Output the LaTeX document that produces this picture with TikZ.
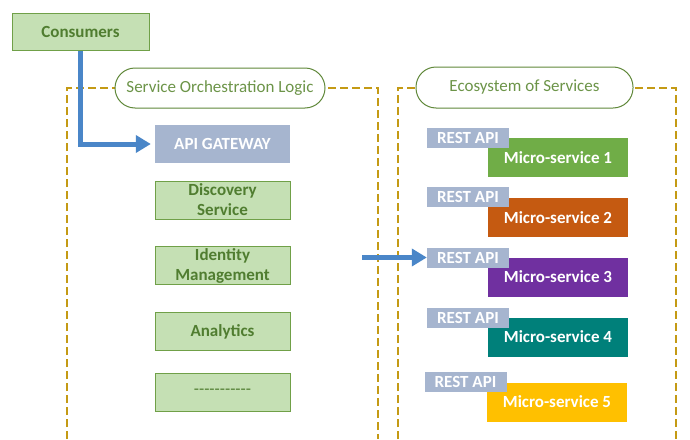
\documentclass[tikz,border=0pt]{standalone}
\usepackage{fontspec}
\setmainfont{Carlito}
\usepackage{tikz}
\usetikzlibrary{arrows.meta}

\definecolor{boxfill}{RGB}{197,224,180}
\definecolor{boxedge}{RGB}{112,160,72}
\definecolor{boxtext}{RGB}{80,125,48}
\definecolor{apifill}{RGB}{166,181,207}
\definecolor{framegold}{RGB}{196,154,20}
\definecolor{tagedge}{RGB}{96,136,58}
\definecolor{tagtext}{RGB}{108,148,72}
\definecolor{flowblue}{RGB}{74,134,200}
\definecolor{msgreen}{RGB}{112,173,71}
\definecolor{msorange}{RGB}{197,90,17}
\definecolor{mspurple}{RGB}{112,48,160}
\definecolor{msteal}{RGB}{0,128,122}
\definecolor{msgold}{RGB}{255,192,0}

\newcommand{\hy}{\mbox{-}}

\begin{document}
\begin{tikzpicture}[x=1pt,y=-1pt,
    greenbox/.style={draw=boxedge,fill=boxfill,text=boxtext,line width=1pt,
      font=\fontsize{17}{20}\selectfont\bfseries,align=center,
      minimum width=135pt,minimum height=38pt,inner sep=0pt},
    apibox/.style={fill=apifill,text=white,
      font=\fontsize{17}{20}\selectfont\bfseries,inner sep=0pt},
    msbox/.style={fill=#1,text=white,font=\fontsize{17}{20}\selectfont\bfseries,
      minimum width=140pt,minimum height=39pt,inner sep=0pt},
    tag/.style={draw=tagedge,fill=white,text=tagtext,line width=1pt,
      rounded corners=20pt,font=\fontsize{17}{20}\selectfont,inner sep=0pt},
    frame/.style={draw=framegold,line width=2pt,dash pattern=on 8pt off 4pt},
    flow/.style={draw=flowblue,line width=5pt,-{Triangle[length=15pt,width=17pt]}}]
  \useasboundingbox (0,0) rectangle (690,439);

  % dashed frames, open at the bottom
  \draw[frame] (67,439) -- (67,88) -- (378,88) -- (378,439);
  \draw[frame] (398,439) -- (398,88) -- (676,88) -- (676,439);
  \node[tag,minimum width=210pt,minimum height=40pt] (orch) at (220,88) {Service Orchestration Logic};
  \node[tag,minimum width=217pt,minimum height=41pt] (eco) at (524.5,87.5) {Ecosystem of Services};

  % left column
  \node[greenbox,minimum width=137pt,minimum height=37pt] (cons) at (80.5,31.5) {Consumers};
  \node[apibox,minimum width=135pt,minimum height=38pt] (gw) at (222.5,144) {API GATEWAY};
  \node[greenbox] (disc) at (222.5,200) {Discovery\\Service};
  \node[greenbox] (ident) at (222.5,265.5) {Identity\\Management};
  \node[greenbox] (anal) at (222.5,331.5) {Analytics};
  \node[greenbox,font=\fontsize{17}{20}\selectfont] (more) at (222.5,392) {\hy\hy\hy\hy\hy\hy\hy\hy\hy\hy\hy};

  % right column
  \node[msbox=msgreen] (ms1) at (558,157.5) {Micro-service 1};
  \node[msbox=msorange] (ms2) at (558,217.5) {Micro-service 2};
  \node[msbox=mspurple] (ms3) at (558,277) {Micro-service 3};
  \node[msbox=msteal] (ms4) at (558,337) {Micro-service 4};
  \node[msbox=msgold] (ms5) at (557,402) {Micro-service 5};
  \node[apibox,minimum width=82pt,minimum height=20pt] (rest1) at (468,138) {REST API};
  \node[apibox,minimum width=82pt,minimum height=20pt] (rest2) at (468,197) {REST API};
  \node[apibox,minimum width=82pt,minimum height=20pt] (rest3) at (468,257.5) {REST API};
  \node[apibox,minimum width=82pt,minimum height=20pt] (rest4) at (468,317.5) {REST API};
  \node[apibox,minimum width=82pt,minimum height=20pt] (rest5) at (465.5,382) {REST API};

  % arrows
  \draw[flow,shorten >=4pt] (cons.south) |- (gw.west);
  \coordinate (in3) at (362,257.5);
  \draw[flow] (in3) -- (rest3.west);
\end{tikzpicture}
\end{document}
